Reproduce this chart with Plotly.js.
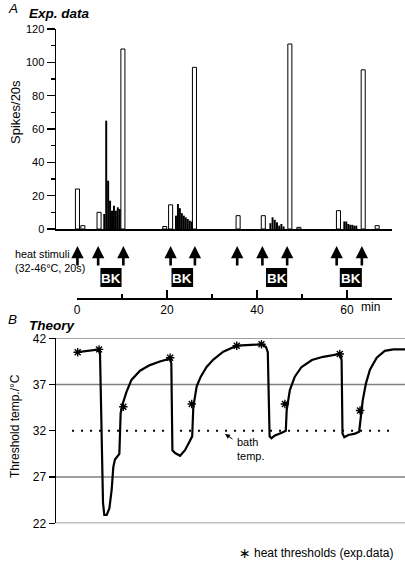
<!DOCTYPE html>
<html><head><meta charset="utf-8">
<script src="https://cdn.plot.ly/plotly-3.0.1.min.js"></script>
<style>html,body{margin:0;padding:0;background:#fff}#chart{width:405px;height:561px}</style>
</head><body><div id="chart"></div>
<script>
// ---------- Panel A data ----------
// heat responses (open bars): time (min), spikes/20s
const heatTimes  = [0.1, 1.3, 4.9, 10.2, 19.5, 20.8, 26.1, 35.8, 41.4, 47.3, 49.3, 58.1, 63.6, 66.7];
const heatSpikes = [24, 2, 10, 108, 1.5, 14.5, 97, 8, 8, 111, 1, 11, 95.5, 2];
// BK responses (black bars)
const bkTimes  = [6.06, 6.49, 6.92, 7.35, 7.78, 8.21, 8.64, 9.07, 9.50,
                  21.99, 22.43, 22.86, 23.30, 23.74, 24.17, 24.61, 25.05, 25.49,
                  42.97, 43.46, 43.95, 44.44, 44.93, 45.42, 45.91,
                  59.40, 59.84, 60.29, 60.73, 61.18, 61.62, 62.07];
const bkSpikes = [9, 65, 29, 17, 11, 14, 11, 13, 12,
                  8, 15, 12.5, 9.5, 8, 7, 6, 5, 4.5,
                  3.5, 7, 5.5, 4, 2, 3, 1.5,
                  4.5, 4.5, 3, 2.5, 2.5, 2, 2];
// heat stimuli (arrows) and BK application periods
const stimTimes = [0.1, 4.7, 10.3, 20.8, 26.2, 35.6, 41.2, 46.7, 57.7, 63.3];
const bkStart = [5.2, 21.0, 42.0, 58.4];
const bkEnd   = [9.9, 25.8, 46.7, 63.3];
const timeTicks = [0, 20, 40, 60, 70];
const timeTickText = ['0', '20', '40', '60', ''];
const spikeTicks = [0, 20, 40, 60, 80, 100, 120];

// ---------- Panel B data ----------
const thrTime = [0.15, 4.9, 5.11, 5.33, 5.56, 5.78, 6.07, 6.6, 7.19, 7.7, 8.07, 8.44, 9.41, 9.7, 10.2,
  11.0, 12.1, 14.0, 16.2, 18.4, 20.7, 20.96, 21.2, 21.8, 22.9, 24.0, 24.96, 25.6, 25.85,
  26.6, 27.5, 28.8, 30.3, 32.5, 35.1, 35.5, 41.0, 42.0, 42.4, 42.6, 42.8, 43.2, 44.0, 45.5, 46.4, 46.6,
  47.3, 48.4, 49.9, 52.2, 54.7, 58.4, 58.8, 59.0, 59.4, 60.3, 61.8, 62.7, 63.0, 63.5, 64.2, 65.1,
  66.6, 68.4, 70.3, 72.9];
const thrTemp = [40.5, 40.8, 40.4, 34.2, 27.8, 24.2, 22.9, 22.9, 23.6, 25.6, 28.1, 28.9, 29.5, 33.9, 35.0,
  36.2, 37.5, 38.5, 39.1, 39.5, 39.8, 39.3, 29.9, 29.6, 29.3, 29.9, 30.8, 31.4, 34.6,
  36.8, 37.85, 38.9, 39.7, 40.55, 41.1, 41.2, 41.35, 41.05, 40.5, 36.05, 31.4, 31.2, 31.5, 31.8, 32.0, 34.25,
  36.4, 37.85, 38.9, 39.65, 40.0, 40.3, 39.65, 31.7, 31.3, 31.55, 31.7, 31.9, 33.5, 35.3, 37.1, 38.6,
  39.9, 40.65, 40.8, 40.8];
const starTime = [0.15, 4.9, 10.3, 20.7, 25.5, 35.5, 41.0, 46.2, 58.4, 62.9];
const starTemp = [40.5, 40.8, 34.6, 39.9, 34.9, 41.2, 41.35, 34.9, 40.3, 34.2];
const tempTicks = [22, 27, 32, 37, 42];
const gridTemps = [22, 27, 37, 42];
const bathTemp = 32;

// ---------- layout helpers ----------
const W = 405, H = 561;
const F = 'Liberation Sans, Arial, Helvetica, sans-serif';
const py = p => 1 - p / H;
const px = p => p / W;

const traces = [
  {type: 'bar', x: heatTimes, y: heatSpikes, xaxis: 'x', yaxis: 'y', width: 0.9,
   marker: {color: '#ffffff', line: {color: '#000', width: 1}}, hoverinfo: 'x+y', showlegend: false},
  {type: 'bar', x: bkTimes, y: bkSpikes, xaxis: 'x', yaxis: 'y', width: 0.44,
   marker: {color: '#000', line: {color: '#000', width: 0}}, hoverinfo: 'x+y', showlegend: false},
  {type: 'scatter', mode: 'markers', x: [35], y: [-50], xaxis: 'x2', yaxis: 'y',
   marker: {opacity: 0}, hoverinfo: 'skip', showlegend: false},
  {type: 'scatter', mode: 'lines', x: thrTime, y: thrTemp, xaxis: 'x3', yaxis: 'y2',
   line: {color: '#000', width: 2.2}, showlegend: false},
  {type: 'scatter', mode: 'markers', x: starTime, y: starTemp, xaxis: 'x3', yaxis: 'y2',
   marker: {symbol: 'asterisk-open', size: 7, color: '#000', line: {color: '#000', width: 1.4}}, showlegend: false}
];

const shapes = [];
gridTemps.forEach(t => shapes.push({type: 'line', xref: 'paper', yref: 'y2', x0: px(56), x1: 1, y0: t, y1: t,
  line: {color: '#808080', width: 1.5}, layer: 'below'}));
shapes.push({type: 'line', xref: 'x3', yref: 'y2', x0: -1.1, x1: 70.2, y0: bathTemp, y1: bathTemp,
  line: {color: '#000', width: 2, dash: '2px,7px'}, layer: 'below'});
bkStart.forEach((s, i) => shapes.push({type: 'rect', xref: 'x2', yref: 'paper', x0: s, x1: bkEnd[i],
  y0: py(287), y1: py(268), fillcolor: '#000', line: {width: 0}}));

const ann = [];
stimTimes.forEach(t => ann.push({xref: 'x2', yref: 'paper', x: t, y: py(246), ax: 0, ay: 21, text: '',
  showarrow: true, arrowhead: 2, arrowsize: 0.95, arrowwidth: 2.6, arrowcolor: '#000'}));
bkStart.forEach((s, i) => ann.push({xref: 'x2', yref: 'paper', x: (s + bkEnd[i]) / 2, y: py(278),
  text: '<b>BK</b>', showarrow: false, font: {family: F, size: 13.5, color: '#fff'}, xanchor: 'center', yanchor: 'middle'}));
const txt = (x, y, text, size, extra) => Object.assign({xref: 'paper', yref: 'paper', x: px(x), y: py(y), text,
  showarrow: false, xanchor: 'left', yanchor: 'middle', font: {family: F, size, color: '#000'}}, extra || {});
ann.push(txt(13, 254, 'heat stimuli', 10.8));
ann.push(txt(13, 268, '(32-46°C, 20s)', 10.8));
ann.push(txt(359, 307, 'min', 12));
ann.push(txt(6, 8, '<i>A</i>', 13.5));
ann.push(txt(27, 13, '<b><i>Exp. data</i></b>', 13.5));
ann.push(txt(6, 319, '<i>B</i>', 13.5));
ann.push(txt(27, 325, '<b><i>Theory</i></b>', 13.5));
ann.push(txt(15, 112, 'Spikes/20s', 13, {xanchor: 'center', textangle: -90}));
ann.push(txt(15, 426, 'Threshold temp./°C', 12, {xanchor: 'center', textangle: -90}));
ann.push(txt(235, 449, 'bath<br>temp.', 11, {align: 'left'}));
ann.push({xref: 'paper', yref: 'paper', x: px(225), y: py(434), ax: 9, ay: 6, text: '', showarrow: true,
  arrowhead: 2, arrowsize: 1, arrowwidth: 1, arrowcolor: '#000'});
ann.push(txt(237, 553, '∗', 14, {font: {family: 'DejaVu Sans', size: 14, color: '#000'}}));
ann.push(txt(252, 553, 'heat thresholds (exp.data)', 12));

const layout = {
  width: W, height: H, margin: {l: 0, r: 0, t: 0, b: 0}, paper_bgcolor: '#fff', plot_bgcolor: 'rgba(0,0,0,0)',
  font: {family: F, size: 12, color: '#000'}, barmode: 'overlay', showlegend: false,
  xaxis: {domain: [px(56), px(392)], range: [-4.667, 70], anchor: 'y', showline: true, linecolor: '#000', linewidth: 1.5,
    ticks: '', showticklabels: false, showgrid: false, zeroline: false},
  yaxis: {domain: [py(229), py(29)], range: [0, 120], anchor: 'x', showline: true, linecolor: '#000', linewidth: 1.5,
    ticks: 'outside', ticklen: 8, tickwidth: 1.2, tickcolor: '#000', tickvals: spikeTicks,
    minor: {tickvals: [10, 30, 50, 70, 90, 110], ticks: 'outside', ticklen: 4, tickwidth: 1.2, tickcolor: '#000', showgrid: false},
    showgrid: false, zeroline: false, tickfont: {family: F, size: 11}},
  xaxis2: {domain: [px(77), px(392)], range: [0, 70], anchor: 'free', position: py(298), showline: true, linecolor: '#000', linewidth: 1.5,
    ticks: 'inside', ticklen: 8, tickwidth: 1.5, tickcolor: '#000', tickvals: timeTicks, ticktext: timeTickText,
    minor: {tickvals: [10, 30, 50], ticks: 'inside', ticklen: 4, tickwidth: 1.5, tickcolor: '#000', showgrid: false},
    showgrid: false, zeroline: false, tickfont: {family: F, size: 12}},
  xaxis3: {domain: [px(56), 1], range: [-4.667, 72.89], anchor: 'y2', visible: false},
  yaxis2: {domain: [py(523.3), py(338.3)], range: [22, 42], anchor: 'x3', showline: true, linecolor: '#000', linewidth: 1.5,
    ticks: 'outside', ticklen: 6, tickwidth: 1.2, tickcolor: '#000', tickvals: tempTicks,
    showgrid: false, zeroline: false, tickfont: {family: F, size: 12}},
  shapes, annotations: ann
};
Plotly.newPlot('chart', traces, layout, {displayModeBar: false, staticPlot: true});
</script></body></html>
